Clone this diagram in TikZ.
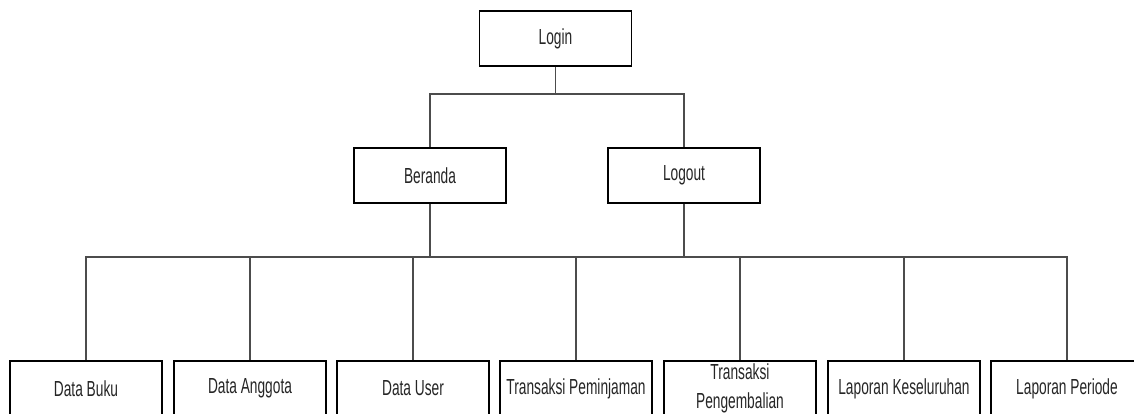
\documentclass[tikz,border=0pt]{standalone}
\usepackage{fontspec}
\setmainfont[FakeStretch=0.63]{Liberation Sans}
\usetikzlibrary{positioning}

\tikzset{
  menu/.style={rectangle,draw=black,line width=0.9pt,fill=white,
    minimum width=3.8cm,minimum height=1.375cm,inner sep=1pt,
    align=center,text=black!85,font=\fontsize{15.5}{21}\selectfont},
  link/.style={draw=black!70,line width=0.9pt}
}

\begin{document}
\begin{tikzpicture}[x=0.025cm,y=-0.025cm]
        \useasboundingbox (0,0) rectangle (1134,414);
        \clip (0,0) rectangle (1134,414);
        % Junctions
        \coordinate (top) at (555.5,94);
        \coordinate (bar) at (430,257);
        % Vertices
        \node[menu] (login) at (555.5,38.5) {Login};
        \node[menu] (beranda) at (430,175.5) {Beranda};
        \node[menu] (logout) at (684,175.5) {Logout};
        \node[menu] (buku) at (86,388.5) {Data Buku};
        \node[menu] (anggota) at (250,388.5) {Data Anggota};
        \node[menu] (user) at (413,388.5) {Data User};
        \node[menu] (pinjam) at (576,388.5) {Transaksi Peminjaman};
        \node[menu] (kembali) at (740,388.5) {Transaksi\\Pengembalian};
        \node[menu] (semua) at (904,388.5) {Laporan Keseluruhan};
        \node[menu] (periode) at (1067,388.5) {Laporan Periode};
        % Edges
        \draw[link] (login) -- (top);
        \draw[link] (top) -| (beranda);
        \draw[link] (top) -| (logout);
        \draw[link] (beranda) -- (bar);
        \draw[link] (logout) -- (logout |- bar);
        \foreach \n in {buku,anggota,user,pinjam,kembali,semua,periode}
            \draw[link] (bar) -| (\n);
    \end{tikzpicture}
\end{document}
